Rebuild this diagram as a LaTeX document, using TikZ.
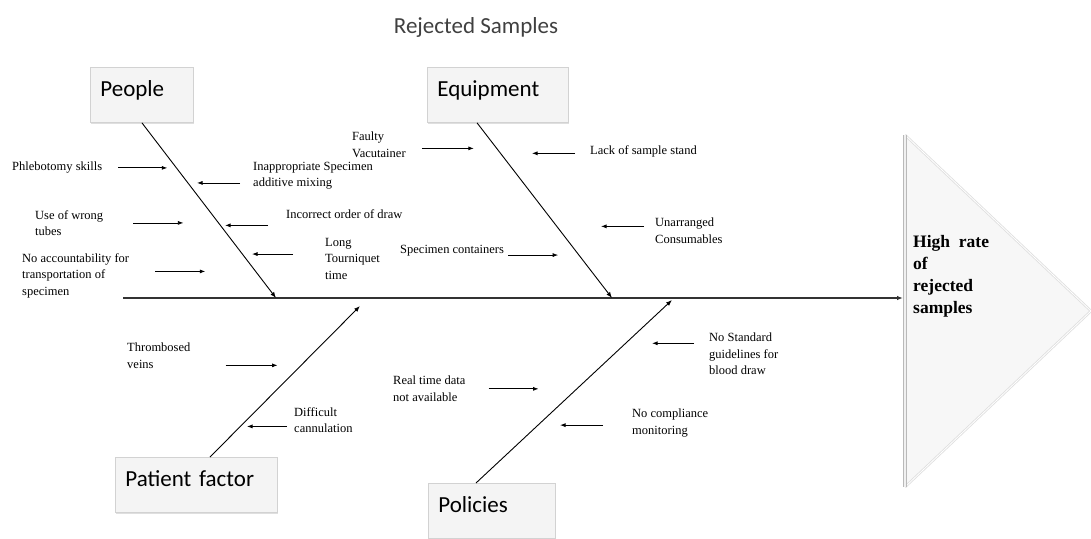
\documentclass[tikz,border=0pt]{standalone}
\usepackage{fontspec}
\setmainfont{Liberation Serif}
\newfontfamily\catfont{Carlito}
\usetikzlibrary{arrows.meta,shadows}

\begin{document}
\begin{tikzpicture}[x=1pt,y=-1pt,
  catbox/.style={draw=gray!35,fill=gray!9,line width=0.8pt,
    drop shadow={opacity=0.25,shadow xshift=1pt,shadow yshift=-1.5pt},
    anchor=north west,minimum height=55pt,inner xsep=10pt,inner ysep=0pt,
    text width=#1,align=left,text height=16pt,text depth=13pt,
    font=\catfont\fontsize{23}{26}\selectfont},
  cause/.style={anchor=north west,inner sep=0pt,align=left,
    font=\fontsize{12.5}{16.5}\selectfont},
  bone/.style={line width=0.9pt,-{Latex[length=6pt,width=4.5pt]}},
  hint/.style={line width=0.8pt,-{Latex[length=5.5pt,width=4pt]}},
  spine/.style={line width=1.3pt,black!80,-{Latex[length=6pt,width=4.5pt]}}]
\useasboundingbox (0,0) rectangle (1091,538);

% effect head
\coordinate (t1) at (905,135);
\coordinate (t2) at (905,487);
\coordinate (t3) at (1091,311);
\fill[gray!6] (t1) -- (t2) -- (t3) -- cycle;
\draw[gray!25,line width=2.5pt] (t1) -- (t3) -- (t2);
\draw[white,line width=0.8pt] (t1) -- (t3) -- (t2);
\draw[gray!55,line width=1.3pt,double=gray!12,double distance=1.2pt] (t1) -- (t2);
\node[anchor=north west,inner sep=0pt,align=left,
      font=\bfseries\fontsize{17.5}{22}\selectfont] (effecttext) at (913,235)
      {High~ rate\\of\\rejected\\samples};

\node[font=\catfont\fontsize{23}{26}\selectfont,text=black!75] (title) at (476,27) {Rejected Samples};

% categories
\node[catbox=83pt]  (people)  at (90,67)   {People};
\node[catbox=121pt] (equip)   at (427,67)  {Equipment};
\node[catbox=142pt] (patient) at (115,457) {Patient factor};
\node[catbox=107pt] (policy)  at (428,483) {Policies};

% spine and bones
\coordinate (tail)   at (123,298);
\coordinate (effect) at (903,298);
\coordinate (pj)  at (276,298);
\coordinate (ej)  at (612,298);
\coordinate (paj) at (360,306);
\coordinate (poj) at (672,300);
\draw[spine] (tail) -- (effect);
\draw[bone] (people.south) -- (pj);
\draw[bone] ([xshift=50pt]equip.south west) -- (ej);
\draw[bone] ([xshift=95pt]patient.north west) -- (paj);
\draw[bone] ([xshift=48pt]policy.north west) -- (poj);

% people causes
\node[cause] (phleb)      at (12,162)  {Phlebotomy skills};
\node[cause] (mixing)     at (253,162) {Inappropriate Specimen\\additive mixing};
\node[cause] (tubes)      at (35,210)  {Use of wrong\\tubes};
\node[cause] (order)      at (286,209) {Incorrect order of draw};
\node[cause] (tourniquet) at (325,238) {Long\\Tourniquet\\time};
\node[cause] (transport)  at (22,253)  {No accountability for\\transportation of\\specimen};
\draw[hint] ([xshift=16pt]phleb.east) -- ++(49,0);
\draw[hint] ([xshift=-13pt,yshift=-7pt]mixing.west) -- ++(-43,0);
\draw[hint] ([xshift=30pt]tubes.east) -- ++(50,0);
\draw[hint] ([xshift=-18pt,yshift=-11.7pt]order.west) -- ++(-43,0);
\draw[hint] ([xshift=-32pt,yshift=4.8pt]tourniquet.west) -- ++(-41,0);
\draw[hint] ([xshift=26pt,yshift=4pt]transport.east) -- ++(50,0);

% equipment causes
\node[cause] (vacutainer) at (352,132) {Faulty\\Vacutainer};
\node[cause] (stand)      at (590,145) {Lack of sample stand};
\node[cause] (consum)     at (655,218) {Unarranged\\Consumables};
\node[cause] (contain)    at (400,245) {Specimen containers};
\draw[hint] ([xshift=16pt,yshift=-3.5pt]vacutainer.east) -- ++(52,0);
\draw[hint] ([xshift=-15pt,yshift=-2.4pt]stand.west) -- ++(-43,0);
\draw[hint] ([xshift=-11pt,yshift=4.5pt]consum.west) -- ++(-43,0);
\draw[hint] ([xshift=4pt,yshift=-4.4pt]contain.east) -- ++(50,0);

% patient causes
\node[cause] (veins)  at (127,343) {Thrombosed\\veins};
\node[cause] (cannul) at (294,407) {Difficult\\cannulation};
\draw[hint] ([xshift=35pt,yshift=-9.5pt]veins.east) -- ++(52,0);
\draw[hint] ([xshift=-7pt,yshift=-6.5pt]cannul.west) -- ++(-40,0);

% policy causes
\node[cause] (guide)    at (709,333) {No Standard\\guidelines for\\blood draw};
\node[cause] (realtime) at (393,376) {Real time data\\not available};
\node[cause] (monitor)  at (632,409) {No compliance\\monitoring};
\draw[hint] ([xshift=-15pt,yshift=10.8pt]guide.west) -- ++(-42,0);
\draw[hint] ([xshift=23pt]realtime.east) -- ++(50,0);
\draw[hint] ([xshift=-29pt,yshift=-2pt]monitor.west) -- ++(-43,0);
\end{tikzpicture}
\end{document}
